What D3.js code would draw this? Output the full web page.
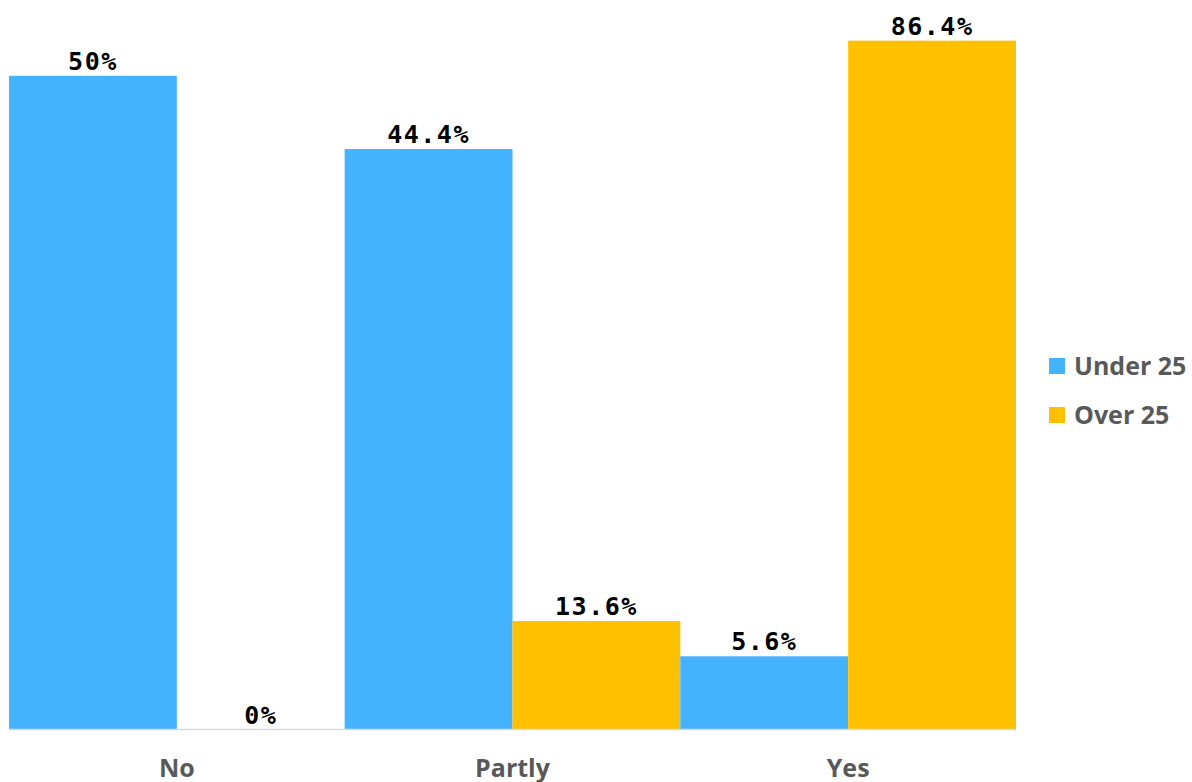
<!DOCTYPE html>
<html>
<head>
<meta charset="utf-8">
<script src="https://cdn.jsdelivr.net/npm/d3@7"></script>
<style>
  html, body { margin: 0; padding: 0; background: #fff; }
  svg { display: block; }
</style>
</head>
<body>
<svg id="chart" width="1192" height="782"></svg>
<script>
// Answer categories and the share of each age group (percent)
const categories = ["No", "Partly", "Yes"];
const seriesNames = ["Under 25", "Over 25"];
const under25 = [50, 44.4, 5.6];
const over25 = [0, 13.6, 86.4];
const labels = {
  "Under 25": ["50%", "44.4%", "5.6%"],
  "Over 25": ["0%", "13.6%", "86.4%"]
};
// Each series is plotted against its own value axis
const axisMax = { "Under 25": 55.8, "Over 25": 91.5 };
const colors = { "Under 25": "#43b3ff", "Over 25": "#ffc000" };

const svg = d3.select("#chart");
const plot = { left: 9, right: 1016, top: 0, bottom: 729.5 };

const x0 = d3.scaleBand().domain(categories).range([plot.left, plot.right]).padding(0);
const x1 = d3.scaleBand().domain(seriesNames).range([0, x0.bandwidth()]).padding(0);
const yScales = {};
seriesNames.forEach(s => {
  yScales[s] = d3.scaleLinear().domain([0, axisMax[s]]).range([plot.bottom, plot.top]);
});

const rows = [];
categories.forEach((c, i) => {
  rows.push({ cat: c, series: "Under 25", value: under25[i], label: labels["Under 25"][i] });
  rows.push({ cat: c, series: "Over 25", value: over25[i], label: labels["Over 25"][i] });
});

// Bars
svg.append("g").selectAll("rect").data(rows).join("rect")
  .attr("x", d => x0(d.cat) + x1(d.series))
  .attr("width", x1.bandwidth())
  .attr("y", d => yScales[d.series](d.value))
  .attr("height", d => plot.bottom - yScales[d.series](d.value))
  .attr("fill", d => colors[d.series]);

// Value labels
svg.append("g").selectAll("text").data(rows).join("text")
  .attr("x", d => x0(d.cat) + x1(d.series) + x1.bandwidth() / 2)
  .attr("y", d => yScales[d.series](d.value) - 6)
  .attr("text-anchor", "middle")
  .attr("font-family", "'DejaVu Sans Mono', monospace")
  .attr("font-weight", "bold")
  .attr("font-size", 25)
  .attr("letter-spacing", 1.5)
  .attr("fill", "#000")
  .text(d => d.label);

// Category axis
const xAxis = d3.axisBottom(x0).tickSize(0).tickPadding(0);
const gx = svg.append("g").attr("transform", `translate(0,${plot.bottom})`).call(xAxis);
gx.select(".domain").attr("stroke", "#d9d9d9").attr("stroke-width", 1.5)
  .attr("d", `M${plot.left},0H${plot.right}`);
gx.selectAll(".tick text")
  .attr("y", 47.5)
  .attr("dy", 0)
  .attr("font-family", "'Open Sans', sans-serif")
  .attr("font-weight", "bold")
  .attr("font-size", 25)
  .attr("fill", "#595959");

// Legend
const legend = svg.append("g").selectAll("g").data(seriesNames).join("g")
  .attr("transform", (d, i) => `translate(1049,${358 + i * 49})`);
legend.append("rect").attr("width", 16).attr("height", 16).attr("fill", d => colors[d]);
legend.append("text")
  .attr("x", 25).attr("y", 17)
  .attr("font-family", "'Open Sans', sans-serif")
  .attr("font-weight", "bold")
  .attr("font-size", 25)
  .attr("fill", "#595959")
  .text(d => d);
</script>
</body>
</html>
